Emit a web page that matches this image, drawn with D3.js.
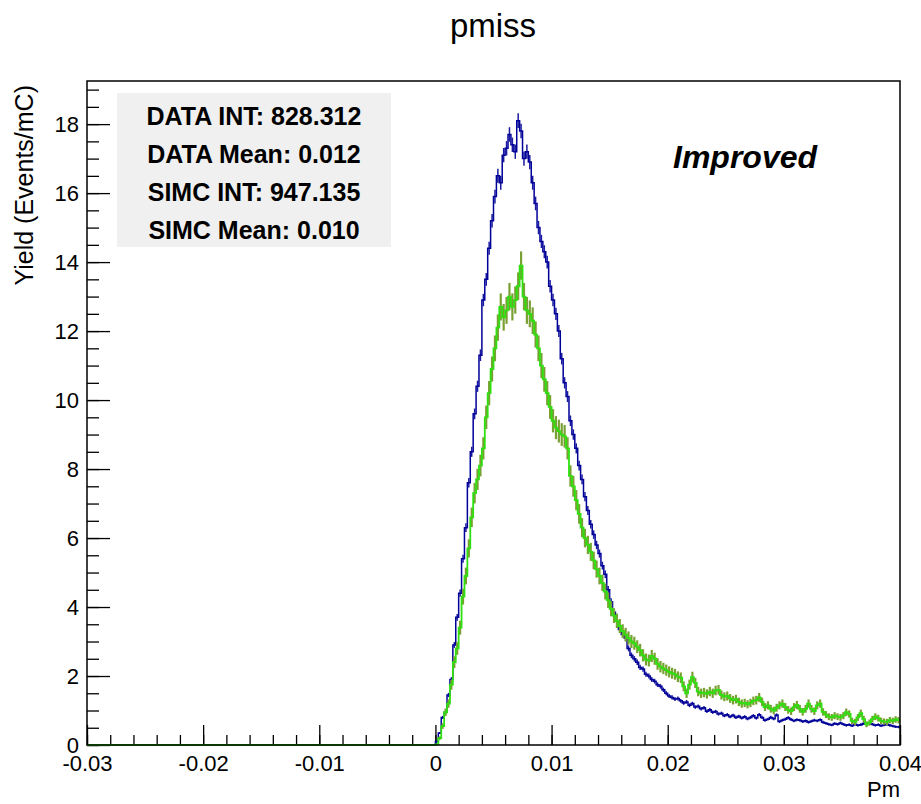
<!DOCTYPE html>
<meta charset="utf-8">
<head>
  <style>
    body { margin: 0; background: #fff; }
    svg text { font-family: "Liberation Sans", Arial, Helvetica, sans-serif; fill: #000; }
    .tick text { font-size: 22px; }
    .stats text { font-size: 25px; font-weight: bold; }
  </style>
  <script src="https://cdn.jsdelivr.net/npm/d3@7"></script>
</head>
<body>
  <svg width="921" height="804"></svg>
  <script>

    // histogram binning (bins start at Pm = 0, everything below is empty)
    var binStart = 0
    var binWidth = 0.00025

    // DATA yield per bin (Events/mC)
    var dataYield = [
      0.1, 0.35, 0.8, 0.95, 1.45, 1.9, 2.9, 3.7, 4.4, 5.4,
      6.3, 7.6, 8.5, 9.6, 10.4, 11.3, 12.9, 13.5, 14.4, 15.2,
      15.9, 16.5, 16.3, 17.1, 17.3, 17.7, 17.4, 17.2, 18.1, 17.8,
      17.0, 17.2, 16.9, 16.3, 15.7, 15.0, 14.6, 14.3, 14.0, 13.3,
      12.9, 12.5, 12.0, 11.2, 10.5, 10.1, 9.4, 9.0, 8.6, 8.1,
      7.7, 7.2, 6.8, 6.4, 6.1, 5.8, 5.55, 5.2, 4.95, 4.5,
      4.15, 3.85, 3.6, 3.35, 3.2, 3.1, 2.8, 2.6, 2.5, 2.4,
      2.25, 2.2, 2.05, 2.0, 1.9, 1.85, 1.75, 1.7, 1.6, 1.5,
      1.42, 1.38, 1.33, 1.35, 1.28, 1.22, 1.25, 1.15, 1.2, 1.1,
      1.12, 1.05, 1.08, 0.98, 1.02, 0.95, 0.97, 0.9, 0.92, 0.85,
      0.88, 0.82, 0.86, 0.8, 0.83, 0.78, 0.82, 0.76, 0.8, 0.85,
      0.78, 0.88, 0.8, 0.72, 0.75, 0.8, 0.76, 0.87, 0.68, 0.72,
      0.75, 0.79, 0.74, 0.7, 0.73, 0.72, 0.68, 0.7, 0.66, 0.69,
      0.72, 0.7, 0.73, 0.66, 0.63, 0.6, 0.58, 0.62, 0.6, 0.64,
      0.6, 0.57, 0.59, 0.56, 0.6, 0.57, 0.59, 0.62, 0.6, 0.64,
      0.6, 0.57, 0.59, 0.56, 0.58, 0.6, 0.57, 0.55, 0.53, 0.52
    ]

    // SIMC yield per bin (Events/mC)
    var simcYield = [
      0.02, 0.2, 0.55, 0.95, 1.2, 1.75, 2.4, 2.8, 3.4, 4.3,
      4.9, 5.7, 6.6, 7.3, 7.7, 8.1, 8.6, 9.5, 10.2, 10.9,
      11.5, 12.1, 12.7, 12.4, 12.6, 13.0, 12.7, 12.9, 13.3, 13.9,
      13.0, 12.6, 12.5, 12.3, 11.9, 11.5, 11.0, 10.6, 10.2, 9.8,
      9.4, 9.2, 9.1, 9.0, 8.95, 8.6, 7.8, 7.5, 7.1, 6.7,
      6.3, 6.0, 5.8, 5.6, 5.35, 5.1, 4.9, 4.7, 4.45, 4.2,
      3.95, 3.75, 3.6, 3.45, 3.3, 3.2, 3.1, 3.0, 2.95, 2.85,
      2.75, 2.6, 2.48, 2.45, 2.58, 2.5, 2.35, 2.27, 2.22, 2.17,
      2.12, 2.08, 2.05, 1.98, 1.95, 1.7, 1.5, 1.75, 1.97, 1.8,
      1.55, 1.5, 1.52, 1.48, 1.55, 1.5, 1.58, 1.6, 1.45, 1.4,
      1.42, 1.35, 1.3, 1.33, 1.25, 1.2, 1.22, 1.18, 1.22, 1.28,
      1.3, 1.38, 1.25, 1.1, 1.15, 1.05, 1.0, 1.08, 1.15, 1.2,
      1.1, 1.02, 0.98, 1.1, 1.16, 1.05, 0.96, 1.05, 1.2, 1.05,
      0.98, 1.15, 1.2, 0.96, 0.88, 0.82, 0.8, 0.85, 0.82, 0.8,
      0.85, 0.95, 0.9, 0.7, 0.67, 0.8, 0.92, 0.75, 0.6, 0.65,
      0.75, 0.82, 0.78, 0.7, 0.68, 0.67, 0.72, 0.7, 0.74, 0.72
    ]

    var xTicks = [-0.03, -0.02, -0.01, 0, 0.01, 0.02, 0.03, 0.04]
    var xTickLabels = ["-0.03", "-0.02", "-0.01", "0", "0.01", "0.02", "0.03", "0.04"]
    var yTicks = [0, 2, 4, 6, 8, 10, 12, 14, 16, 18]
    var yTickLabels = ["0", "2", "4", "6", "8", "10", "12", "14", "16", "18"]

    var statsLines = ["DATA INT: 828.312", "DATA Mean: 0.012", "SIMC INT: 947.135", "SIMC Mean: 0.010"]

    var svg = d3.select("svg"),
    width = +svg.attr("width"),
    height = +svg.attr("height");

    var frame = {left: 87, right: 900, top: 81, bottom: 745}

    var x = d3.scaleLinear()
    .domain([-0.03, 0.04])
    .range([frame.left, frame.right]);

    var y = d3.scaleLinear()
    .domain([0, 19.25])
    .range([frame.bottom, frame.top]);

    svg.append("rect")
    .attr("width", width)
    .attr("height", height)
    .attr("fill", "#fff");

    //stats box
    var stats = svg.append("g").attr("class", "stats");
    stats.append("rect")
    .attr("x", 117)
    .attr("y", 93)
    .attr("width", 274)
    .attr("height", 154)
    .attr("fill", "#f0f0f0");
    stats.selectAll("text")
    .data(statsLines)
    .enter().append("text")
    .attr("x", 254)
    .attr("y", function(d, i) { return 125 + i * 38; })
    .attr("text-anchor", "middle")
    .text(function(d) { return d; });

    //axes - ROOT style ticks pointing into the frame
    var minorX = d3.range(-0.03, 0.04001, 0.002)
    var minorY = d3.range(0, 19.01, 0.5)

    svg.append("g")
    .attr("transform", "translate(0," + frame.bottom + ")")
    .call(d3.axisBottom(x).tickValues(minorX).tickSize(-10).tickFormat(""))
    .call(function(g) { g.select(".domain").remove(); });

    svg.append("g")
    .attr("transform", "translate(0," + frame.bottom + ")")
    .call(d3.axisBottom(x).tickValues(xTicks).tickSize(-20).tickPadding(10)
      .tickFormat(function(d, i) { return xTickLabels[i]; }))
    .call(function(g) { g.select(".domain").remove(); })
    .selectAll("text").attr("dy", "0.71em");

    svg.append("g")
    .attr("transform", "translate(" + frame.left + ",0)")
    .call(d3.axisLeft(y).tickValues(minorY).tickSize(-12).tickFormat(""))
    .call(function(g) { g.select(".domain").remove(); });

    svg.append("g")
    .attr("transform", "translate(" + frame.left + ",0)")
    .call(d3.axisLeft(y).tickValues(yTicks).tickSize(-23).tickPadding(8)
      .tickFormat(function(d, i) { return yTickLabels[i]; }))
    .call(function(g) { g.select(".domain").remove(); });

    svg.selectAll(".tick line").attr("stroke", "#000").attr("stroke-width", 1.3);

    //histograms
    function histPoints(vals) {
      var pts = [[x.domain()[0], 0]];
      vals.forEach(function(v, i) { pts.push([binStart + i * binWidth, v]); });
      pts.push([binStart + vals.length * binWidth, vals[vals.length - 1]]);
      return pts;
    }

    var line = d3.line()
    .x(function(d) { return x(d[0]); })
    .y(function(d) { return y(d[1]); })
    .curve(d3.curveStepAfter);

    function errorBars(vals, k, color, w) {
      svg.append("g")
      .selectAll("line")
      .data(vals)
      .enter().append("line")
      .attr("x1", function(d, i) { return x(binStart + (i + 0.5) * binWidth); })
      .attr("x2", function(d, i) { return x(binStart + (i + 0.5) * binWidth); })
      .attr("y1", function(d) { return y(d + k * Math.sqrt(d)); })
      .attr("y2", function(d) { return y(Math.max(0, d - k * Math.sqrt(d))); })
      .attr("stroke", color)
      .attr("stroke-width", w);
    }

    errorBars(dataYield, 0.05, "#1a1aa0", 1.5);
    svg.append("path")
    .datum(histPoints(dataYield))
    .attr("fill", "none")
    .attr("stroke", "#000099")
    .attr("stroke-width", 1.5)
    .attr("d", line);

    errorBars(simcYield, 0.11, "#78a032", 2.2);
    svg.append("path")
    .datum(histPoints(simcYield))
    .attr("fill", "none")
    .attr("stroke", "#2ee010")
    .attr("stroke-width", 1.8)
    .attr("d", line);

    //frame
    svg.append("rect")
    .attr("x", frame.left)
    .attr("y", frame.top)
    .attr("width", frame.right - frame.left)
    .attr("height", frame.bottom - frame.top)
    .attr("fill", "none")
    .attr("stroke", "#000")
    .attr("stroke-width", 1.5);

    //titles
    svg.append("text")
    .attr("x", 493)
    .attr("y", 37)
    .attr("text-anchor", "middle")
    .attr("font-size", "33px")
    .text("pmiss");

    svg.append("text")
    .attr("transform", "translate(33,85) rotate(-90)")
    .attr("text-anchor", "end")
    .attr("font-size", "25px")
    .text("Yield (Events/mC)");

    svg.append("text")
    .attr("x", 900)
    .attr("y", 797)
    .attr("text-anchor", "end")
    .attr("font-size", "22px")
    .text("Pm");

    svg.append("text")
    .attr("x", 673)
    .attr("y", 168)
    .attr("font-size", "32px")
    .attr("font-weight", "bold")
    .attr("font-style", "italic")
    .text("Improved");

  </script>
</body>
